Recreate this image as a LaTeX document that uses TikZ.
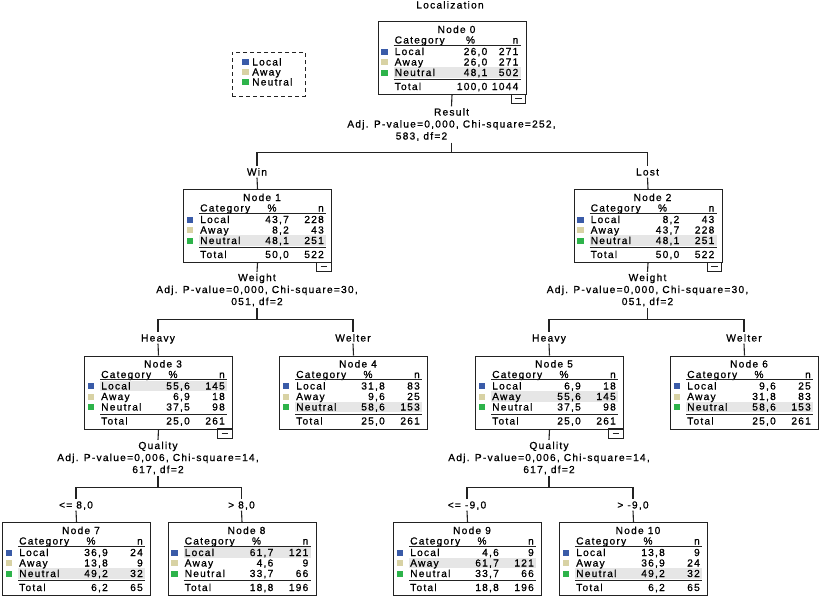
\documentclass[tikz,border=0pt]{standalone}
\usepackage{fontspec}
\setmainfont{Liberation Sans}
\newfontfamily\spsf[LetterSpace=12,FakeBold=0.8]{Liberation Sans}
\definecolor{cLocal}{HTML}{3A5BA8}
\definecolor{cAway}{HTML}{D8D2A4}
\definecolor{cNeutral}{HTML}{2DB34A}
\definecolor{cHl}{HTML}{E6E6E6}
\definecolor{cLine}{HTML}{222222}
\tikzset{
  tt/.style={font=\spsf\fontsize{10.2}{12}\selectfont, inner sep=0pt, text height=7pt, text depth=0pt},
  tbox/.style={draw=cLine, line width=1pt, anchor=north west, minimum width=148pt, minimum height=73pt, inner sep=0pt},
  thinrule/.style={draw=cLine, line width=0.6pt},
  thickrule/.style={draw=cLine, line width=1pt},
  conn/.style={draw=cLine, line width=1.1pt},
  split/.style={font=\spsf\fontsize{10.2}{12}\selectfont, align=center, inner xsep=0pt, inner ysep=1.5pt},
  blab/.style={tt, inner ysep=2pt},
  legbox/.style={draw=cLine, line width=1pt, dash pattern=on 4pt off 3pt, minimum width=73pt, minimum height=44pt, inner sep=0pt},
}
\def\tparse#1/#2/#3/#4/#5/#6/#7/#8\relax{\def\pL{#1}\def\nL{#2}\def\pA{#3}\def\nA{#4}\def\pN{#5}\def\nN{#6}\def\pT{#7}\def\nT{#8}}
% #1 name, #2 left, #3 top, #4 title, #5 highlighted row, #6 pct column right, #7 values, #8 minus box
\newcommand\tnode[8]{%
\begin{scope}[shift={(#2,#3)}]
\tparse#7\relax
\pgfmathsetmacro\hy{20+10.5*#5}
\fill[cHl] (16,\hy-5.2) rectangle (143,\hy+5.2);
\node[tbox] (#1) at (0,0) {};
\node[tt] (#1-t) at (79,8.5) {Node #4};
\node[tt,anchor=west] (#1-hc) at (17,19) {Category};
\node[tt] (#1-hp) at (#6-17,19) {\%};
\node[tt,anchor=east] (#1-hn) at (141,19) {n};
\draw[thinrule] (16,24) -- (143,24);
\fill[cLocal] (3.5,27.5) rectangle (10,33.5);
\fill[cAway] (3.5,38) rectangle (10,44);
\fill[cNeutral] (3.5,48.5) rectangle (10,54.5);
\node[tt,anchor=west] (#1-l) at (17,30.5) {Local};
\node[tt,anchor=east] (#1-lp) at (#6,30.5) {\pL};
\node[tt,anchor=east] (#1-ln) at (141,30.5) {\nL};
\node[tt,anchor=west] (#1-a) at (17,41) {Away};
\node[tt,anchor=east] (#1-ap) at (#6,41) {\pA};
\node[tt,anchor=east] (#1-an) at (141,41) {\nA};
\node[tt,anchor=west] (#1-n) at (17,51.5) {Neutral};
\node[tt,anchor=east] (#1-np) at (#6,51.5) {\pN};
\node[tt,anchor=east] (#1-nn) at (141,51.5) {\nN};
\draw[thickrule] (16,58.5) -- (143,58.5);
\node[tt,anchor=west] (#1-tot) at (17,65.5) {Total};
\node[tt,anchor=east] (#1-tp) at (#6,65.5) {\pT};
\node[tt,anchor=east] (#1-tn) at (141,65.5) {\nT};
\ifnum#8=1
\draw[draw=cLine, line width=1pt] (133.5,73) rectangle (148,82.5);
\draw[draw=cLine, line width=0.8pt] (137.5,77.8) -- (144,77.8);
\fi
\end{scope}}
\begin{document}
\begin{tikzpicture}[x=1pt,y=-1pt]
\fill[white] (0,0) rectangle (820,597);
\useasboundingbox (0,0) rectangle (820,597);

\node[tt] (title) at (450,5) {Localization};

% legend
\node[legbox] (leg) at (268.5,74) {};
\fill[cLocal] (242,59) rectangle (249,65);
\fill[cAway] (242,69) rectangle (249,75);
\fill[cNeutral] (242,79) rectangle (249,85);
\node[tt,anchor=west] (legL) at (252,62) {Local};
\node[tt,anchor=west] (legA) at (252,72) {Away};
\node[tt,anchor=west] (legN) at (252,82) {Neutral};

% nodes
\tnode{n0}{377.5}{21}{0}{3}{110}{26,0/271/26,0/271/48,1/502/100,0/1044}{1}
\tnode{n1}{183}{189}{1}{3}{106}{43,7/228/8,2/43/48,1/251/50,0/522}{1}
\tnode{n2}{573.5}{189}{2}{3}{106}{8,2/43/43,7/228/48,1/251/50,0/522}{1}
\tnode{n3}{84}{355.5}{3}{1}{106}{55,6/145/6,9/18/37,5/98/25,0/261}{1}
\tnode{n4}{279}{355.5}{4}{3}{106}{31,8/83/9,6/25/58,6/153/25,0/261}{0}
\tnode{n5}{475}{355.5}{5}{2}{106}{6,9/18/55,6/145/37,5/98/25,0/261}{1}
\tnode{n6}{670}{355.5}{6}{3}{106}{9,6/25/31,8/83/58,6/153/25,0/261}{0}
\tnode{n7}{2}{522}{7}{3}{106}{36,9/24/13,8/9/49,2/32/6,2/65}{0}
\tnode{n8}{167.5}{522}{8}{1}{106}{61,7/121/4,6/9/33,7/66/18,8/196}{0}
\tnode{n9}{393}{522}{9}{2}{106}{4,6/9/61,7/121/33,7/66/18,8/196}{0}
\tnode{n10}{559}{522}{10}{3}{106}{13,8/9/36,9/24/49,2/32/6,2/65}{0}

% split labels
\node[split] (s0) at (451.5,124.5) {Result\\Adj. P-value=0,000, Chi-square=252,\\583, df=2\hspace*{60pt}};
\node[split] (s1) at (257,290) {Weight\\Adj. P-value=0,000, Chi-square=30,\\051, df=2};
\node[split] (s2) at (647.5,290) {Weight\\Adj. P-value=0,000, Chi-square=30,\\051, df=2};
\node[split] (s3) at (158,458) {Quality\\Adj. P-value=0,006, Chi-square=14,\\617, df=2};
\node[split] (s5) at (549,458) {Quality\\Adj. P-value=0,006, Chi-square=14,\\617, df=2};

% junctions
\coordinate (j0) at (451.5,152.5);
\coordinate (j1) at (257,319.5);
\coordinate (j2) at (647.5,319.5);
\coordinate (j3) at (158,487.5);
\coordinate (j5) at (549,487.5);

% branch labels
\node[blab] (bWin) at (257,172) {Win};
\node[blab] (bLost) at (647.5,172) {Lost};
\node[blab] (bH1) at (158,338) {Heavy};
\node[blab] (bW1) at (353,338) {Welter};
\node[blab] (bH2) at (549,338) {Heavy};
\node[blab] (bW2) at (744,338) {Welter};
\node[blab] (b7) at (76,505) {<= 8,0};
\node[blab] (b8) at (241.5,505) {> 8,0};
\node[blab] (b9) at (467,505) {<= -9,0};
\node[blab] (b10) at (633,505) {> -9,0};

% connectors
\draw[conn] (n0.south) -- (s0.north);
\draw[conn] (s0.south) -- (j0);
\draw[conn] (j0) -| (bWin.north);
\draw[conn] (j0) -| (bLost.north);
\draw[conn] (bWin.south) -- (n1.north);
\draw[conn] (bLost.south) -- (n2.north);

\draw[conn] (n1.south) -- (s1.north);
\draw[conn] (s1.south) -- (j1);
\draw[conn] (j1) -| (bH1.north);
\draw[conn] (j1) -| (bW1.north);
\draw[conn] (bH1.south) -- (n3.north);
\draw[conn] (bW1.south) -- (n4.north);

\draw[conn] (n2.south) -- (s2.north);
\draw[conn] (s2.south) -- (j2);
\draw[conn] (j2) -| (bH2.north);
\draw[conn] (j2) -| (bW2.north);
\draw[conn] (bH2.south) -- (n5.north);
\draw[conn] (bW2.south) -- (n6.north);

\draw[conn] (n3.south) -- (s3.north);
\draw[conn] (s3.south) -- (j3);
\draw[conn] (j3) -| (b7.north);
\draw[conn] (j3) -| (b8.north);
\draw[conn] (b7.south) -- (n7.north);
\draw[conn] (b8.south) -- (n8.north);

\draw[conn] (n5.south) -- (s5.north);
\draw[conn] (s5.south) -- (j5);
\draw[conn] (j5) -| (b9.north);
\draw[conn] (j5) -| (b10.north);
\draw[conn] (b9.south) -- (n9.north);
\draw[conn] (b10.south) -- (n10.north);
\end{tikzpicture}
\end{document}
